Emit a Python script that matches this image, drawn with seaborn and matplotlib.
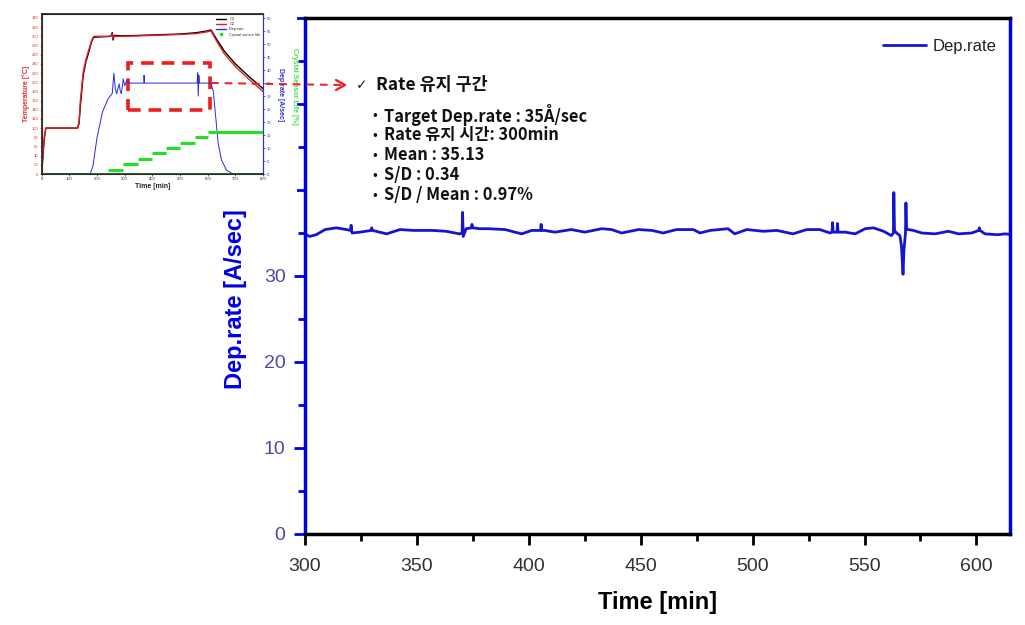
import matplotlib
matplotlib.use("Agg")
import matplotlib.pyplot as plt
import seaborn as sns
import pandas as pd
from matplotlib.patches import Rectangle
from matplotlib.lines import Line2D
from matplotlib.ticker import MultipleLocator

# ---------------- main series: deposition rate 300-615 min ----------------
time_min = [300, 302, 305, 309, 314, 318.5, 320.3, 320.6, 321, 324.6, 329.5, 329.8, 330.2,
            336.5, 342.4, 348.4, 357, 363, 369, 370.2, 370.4, 370.7, 372, 374.4, 374.6, 374.9,
            378, 381.8, 389.4, 396.8, 401.3, 405.3, 405.5, 405.8, 407, 411.7, 419, 425, 432.6,
            437, 441.5, 449, 455, 460, 466, 473.5, 476.5, 481, 489, 492, 497.4, 504.8, 510.8,
            518, 524.2, 530, 534.6, 535.5, 535.7, 536, 537.7, 537.9, 538.2, 541.4, 545.8, 550.3,
            554, 558.5, 562, 562.9, 563.1, 563.4, 564.3, 565.8, 566.5, 567.2, 567.6, 568.3,
            568.5, 568.8, 569.6, 571.8, 575.6, 581.5, 587.5, 592, 597.9, 601.1, 601.3, 601.6,
            603.8, 609.6, 612.8, 615]
dep_rate = [34.9, 34.6, 34.8, 35.4, 35.6, 35.4, 35.3, 35.9, 35.0, 35.1, 35.3, 35.6, 35.3,
            34.9, 35.4, 35.3, 35.3, 35.2, 34.9, 35.0, 37.4, 34.6, 35.5, 35.6, 36.0, 35.6,
            35.5, 35.5, 35.4, 34.9, 35.3, 35.3, 36.0, 35.3, 35.3, 35.1, 35.4, 35.1, 35.5,
            35.4, 35.0, 35.4, 35.3, 35.0, 35.4, 35.4, 35.0, 35.3, 35.5, 34.9, 35.4, 35.2, 35.3,
            34.9, 35.4, 35.4, 35.0, 35.1, 36.2, 35.1, 35.1, 36.1, 35.1, 35.1, 34.9, 35.5,
            35.6, 35.2, 34.7, 35.0, 39.7, 35.3, 35.0, 34.7, 33.5, 30.2, 33.0, 35.0,
            38.5, 35.4, 35.4, 35.3, 35.0, 34.9, 35.2, 34.9, 35.0, 35.3, 35.6, 35.3,
            34.9, 34.8, 34.9, 34.85]
x_ticks = [300, 350, 400, 450, 500, 550, 600]
y_ticks = [0, 10, 20, 30, 40, 50, 60]

# ---------------- inset: whole process ----------------
temp_time = [0, 5, 10, 15, 130, 135, 140, 150, 160, 170, 180, 188, 250, 255, 258, 262, 300,
             400, 500, 560, 600, 612, 630, 660, 700, 750, 800]
temp_c1 = [0, 45, 80, 100, 100, 110, 150, 215, 245, 265, 288, 298, 300, 308, 292, 302, 301,
           303, 305, 308, 312, 314, 296, 268, 240, 212, 186]
temp_c2 = [0, 50, 85, 100, 100, 115, 160, 222, 250, 270, 290, 300, 300, 305, 295, 300, 300,
           302, 304, 306, 310, 312, 292, 262, 234, 206, 180]
rate_time = [0, 175, 185, 200, 220, 240, 255, 261, 266, 271, 276, 280, 284, 288, 295, 300,
             307, 320, 369, 370, 372, 400, 500, 562, 564, 566, 568, 570, 600, 612, 620, 629,
             638, 650, 668, 692, 800]
rate_val = [0, 0, 3, 14, 24, 29, 31, 38.8, 33, 30.9, 33, 34.7, 32, 30.9, 36.6, 34,
            35.8, 35, 35, 38, 35, 35, 35, 35, 39, 30, 38, 35, 35, 35, 32, 22,
            11.7, 5.4, 1.5, 0, 0]
life_start = [240, 295, 349, 397, 451, 500, 553, 602]
life_end = [295, 349, 397, 451, 500, 553, 602, 800]
life_value = [2.5, 6.0, 9.6, 12.9, 16.5, 19.6, 23.2, 26.3]
box_t = [313, 610]
box_temp = [140, 242]

info_title = "Rate 유지 구간"
info_lines = ["Target Dep.rate : 35Å/sec", "Rate 유지 시간: 300min", "Mean : 35.13",
              "S/D : 0.34", "S/D / Mean : 0.97%"]

# ---------------- style ----------------
sns.set_theme(style="white")
plt.rcParams["font.family"] = ["Liberation Sans", "DejaVu Sans"]
BLUE = "#0000e6"
LINE = "#1515d0"

W, H = 1025, 625
def fx(p): return p / W
def fy(p): return 1 - p / H

fig = plt.figure(figsize=(10.25, 6.25), dpi=100)
ax = fig.add_axes([fx(305), fy(534), fx(1010) - fx(305), fy(18) - fy(534)])
ax.set_zorder(0)

df = pd.DataFrame({"Time": time_min, "Rate": dep_rate})
sns.lineplot(data=df, x="Time", y="Rate", ax=ax, color=LINE, linewidth=2.0,
             label="Dep.rate", estimator=None, sort=False)

ax.set_xlim(300, 615)
ax.set_ylim(0, 60)
ax.set_xticks(x_ticks)
ax.set_yticks(y_ticks)
ax.xaxis.set_minor_locator(MultipleLocator(25))
ax.yaxis.set_minor_locator(MultipleLocator(5))
ax.tick_params(axis="x", which="major", direction="out", length=8, width=2, colors="black",
               labelcolor="#333333", labelsize=14, pad=9, bottom=True)
ax.tick_params(axis="x", which="minor", direction="out", length=5, width=2, colors="black", bottom=True)
ax.tick_params(axis="y", which="major", direction="out", length=8, width=2, colors=BLUE,
               labelcolor="#4a4aaa", labelsize=14, pad=6, left=True)
ax.tick_params(axis="y", which="minor", direction="out", length=5, width=2, colors=BLUE, left=True)
for s in ["left", "right"]:
    ax.spines[s].set_color(BLUE)
    ax.spines[s].set_linewidth(2.5)
for s in ["top", "bottom"]:
    ax.spines[s].set_color("black")
    ax.spines[s].set_linewidth(2.5)
ax.grid(False)
ax.set_xlabel("Time [min]", fontsize=17, fontweight="bold", color="black", labelpad=12)
ax.set_ylabel("Dep.rate [A/sec]", fontsize=17, fontweight="bold", color=BLUE)
ax.yaxis.set_label_coords((247 - 305) / 705, 0.455)
leg = ax.legend(loc="upper right", frameon=False, fontsize=12, handlelength=2.6,
                handletextpad=0.4, bbox_to_anchor=((1012 - 305) / 705, 1 - (24 - 18) / 516))
for t in leg.get_texts():
    t.set_color("#222222")

# white backing for the inset picture
fig.add_artist(Rectangle((0, fy(200)), fx(297), 1 - fy(200), transform=fig.transFigure,
                         facecolor="white", edgecolor="none", zorder=1))

# ---------------- inset ----------------
ins = fig.add_axes([fx(41.7), fy(174), fx(263) - fx(41.7), fy(14.3) - fy(174)])
ins.set_zorder(2)
tdf = pd.DataFrame({"t": temp_time, "C1": temp_c1, "C2": temp_c2})
sns.lineplot(data=tdf, x="t", y="C1", ax=ins, color="black", linewidth=1.0, label="C1")
sns.lineplot(data=tdf, x="t", y="C2", ax=ins, color="#e02020", linewidth=1.0, label="C2")
ins.set_xlim(0, 800)
ins.set_ylim(0, 348)
ins.set_xticks(range(0, 801, 100))
ins.set_yticks(range(0, 341, 20))
ins.tick_params(axis="both", length=1.5, width=0.5, pad=1, labelsize=3.0, left=True, bottom=True)
ins.tick_params(axis="y", labelcolor="#e03030", colors="#e03030")
for s in ins.spines.values():
    s.set_linewidth(0.8)
ins.spines["left"].set_color("#e03030")
ins.spines["bottom"].set_color("#208020")
ins.set_xlabel("Time [min]", fontsize=5, fontweight="bold", labelpad=1)
ins.set_ylabel("Temperature [°C]", fontsize=5, fontweight="bold", color="#e03030", labelpad=1)
ins.add_patch(Rectangle((box_t[0], box_temp[0]), box_t[1] - box_t[0], box_temp[1] - box_temp[0],
                        fill=False, edgecolor="#ee1c1c", linewidth=2.6, linestyle=(0, (3.5, 2.2)),
                        zorder=5))

ins2 = ins.twinx()
ins2.set_zorder(3)
ins2.patch.set_visible(False)
rdf = pd.DataFrame({"t": rate_time, "r": rate_val})
sns.lineplot(data=rdf, x="t", y="r", ax=ins2, color="#2a2ae0", linewidth=0.7, label="Dep rate",
             legend=False)
ins2.set_ylim(0, 61.5)
ins2.set_yticks(range(0, 61, 5))
ins2.tick_params(axis="y", length=1.5, width=0.5, pad=1, labelsize=3.0, colors="#3030d0", right=True)
ins2.spines["right"].set_color("#3030d0")
ins2.spines["right"].set_linewidth(0.8)
ins2.set_ylabel("Dep rate [A/sec]", fontsize=5, fontweight="bold", color="#3030d0",
                rotation=270)
ins2.yaxis.set_label_coords((284 - 41.7) / 221.3, 0.5)

ins3 = ins.twinx()
ins3.set_zorder(4)
ins3.patch.set_visible(False)
ins3.hlines(life_value, life_start, life_end, colors="#22e022", linewidth=2.2)
ins3.hlines([0], [0], [800], colors="#22c022", linewidth=1.0)
ins3.set_ylim(0, 100)
ins3.set_yticks([])
for s in ins3.spines.values():
    s.set_visible(False)
ins3.set_ylabel("Crystal Sensor Life [%]", fontsize=5, fontweight="bold", color="#44dd44",
                rotation=270)
ins3.yaxis.set_label_position("right")
ins3.yaxis.set_label_coords((298 - 41.7) / 221.3, 0.55)

handles = [Line2D([], [], color="black", lw=1), Line2D([], [], color="#e02020", lw=1),
           Line2D([], [], color="#2a2ae0", lw=1),
           Line2D([], [], color="#22e022", marker="s", ms=1.5, lw=0)]
il = ins2.legend(handles, ["C1", "C2", "Dep rate", "Crystal sensor life"], loc="upper right",
                 fontsize=2.8, frameon=False, handlelength=2.5, borderaxespad=0.3,
                 labelspacing=0.3)
if ins.get_legend() is not None:
    ins.get_legend().remove()

# dashed connector with open arrow head
fig.add_artist(Line2D([fx(211), fx(342)], [fy(83), fy(85)], transform=fig.transFigure,
                      color="#ee1c1c", linewidth=1.4, linestyle=(0, (4, 3)), zorder=6))
fig.add_artist(Line2D([fx(336), fx(345), fx(336)], [fy(80), fy(85), fy(90)],
                      transform=fig.transFigure, color="#ee1c1c", linewidth=1.6, zorder=6))

# ---------------- annotation text ----------------
kfont = ["Noto Sans CJK KR", "DejaVu Sans"]
fig.text(fx(356), fy(85), "✓", fontsize=10, family=["DejaVu Sans"], va="center", color="#222222",
         zorder=7)
fig.text(fx(376), fy(85), info_title, fontsize=12.5, family=kfont, fontweight="bold", va="center",
         color="#111111", zorder=7)
for i, line in enumerate(info_lines):
    yy = 115 + 20 * i
    fig.text(fx(372), fy(yy), "•", fontsize=10, family=kfont, va="center", color="#111111",
             zorder=7)
    fig.text(fx(384), fy(yy), line, fontsize=11.8, family=kfont, fontweight="bold", va="center",
             color="#111111", zorder=7)

fig.savefig("out.png", dpi=100)
